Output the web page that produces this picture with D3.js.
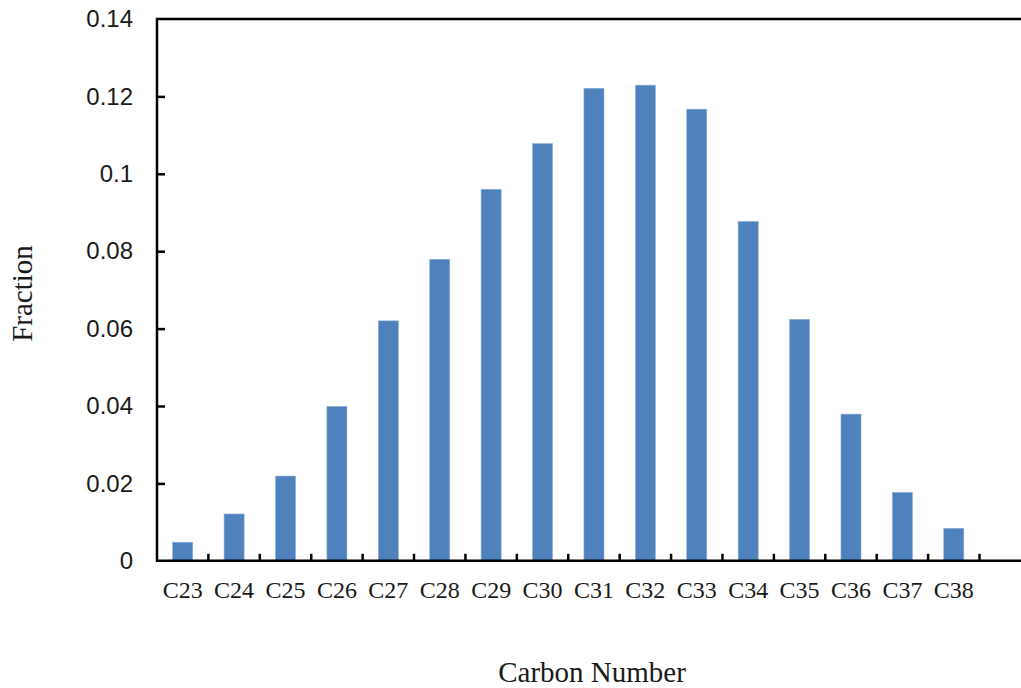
<!DOCTYPE html>
<html>
<head>
<meta charset="utf-8">
<script src="https://cdn.jsdelivr.net/npm/d3@7/dist/d3.min.js"></script>
<style>
  html, body { margin: 0; padding: 0; background: #fff; }
  svg { display: block; }
</style>
</head>
<body>
<script>
// Carbon number distribution
const categories = ["C23","C24","C25","C26","C27","C28","C29","C30","C31","C32","C33","C34","C35","C36","C37","C38"];
const fractions = [0.0048, 0.0121, 0.0219, 0.0399, 0.0620, 0.0779, 0.0960, 0.1078, 0.1221, 0.1229, 0.1167, 0.0877, 0.0624, 0.0379, 0.0177, 0.0084];
const yTicks = [0, 0.02, 0.04, 0.06, 0.08, 0.1, 0.12, 0.14];

const W = 1021, H = 688;
const plotLeft = 157, plotRight = 979.5, plotTop = 19, plotBottom = 560.8;

const svg = d3.select("body").append("svg")
  .attr("width", W).attr("height", H);

const x = d3.scaleBand()
  .domain(categories)
  .range([plotLeft, plotRight])
  .paddingInner(0.61)
  .paddingOuter(0.305);

const y = d3.scaleLinear().domain([0, 0.14]).range([plotBottom, plotTop]);

// bars
svg.append("g").selectAll("rect")
  .data(categories.map((c, i) => ({ c, v: fractions[i] })))
  .join("rect")
  .attr("x", d => x(d.c))
  .attr("y", d => y(d.v))
  .attr("width", x.bandwidth())
  .attr("height", d => y(0) - y(d.v))
  .attr("fill", "#4f81bd")
  .attr("stroke", "#8fb0da")
  .attr("stroke-width", 0.6);

// y axis: inward ticks, labels on the left
const yAxis = d3.axisRight(y)
  .tickValues(yTicks)
  .tickSize(8)
  .tickFormat(d => String(+d.toFixed(2)));
const gy = svg.append("g").attr("transform", `translate(${plotLeft},0)`).call(yAxis);
gy.select(".domain").remove();
gy.selectAll(".tick line")
  .attr("stroke", "#000").attr("stroke-width", 2.5)
  .attr("display", d => (d === 0 || d === 0.14) ? "none" : null);
gy.selectAll(".tick text")
  .attr("text-anchor", "end")
  .attr("x", -24)
  .attr("font-family", "'Liberation Sans', Arial, sans-serif")
  .attr("font-size", 24)
  .attr("fill", "#1a1a1a");

// x axis: inward ticks at category boundaries
const step = x.step();
const boundaries = categories.map(c => x(c) - x.paddingOuter() * step + step);
svg.append("g").selectAll("line")
  .data(boundaries)
  .join("line")
  .attr("x1", d => d).attr("x2", d => d)
  .attr("y1", plotBottom).attr("y2", plotBottom - 7)
  .attr("stroke", "#000").attr("stroke-width", 2.5);

const xAxis = d3.axisBottom(x).tickSize(0).tickPadding(20);
const gx = svg.append("g").attr("transform", `translate(0,${plotBottom})`).call(xAxis);
gx.select(".domain").remove();
gx.selectAll(".tick text")
  .attr("font-family", "'Liberation Serif', 'Times New Roman', serif")
  .attr("font-size", 24)
  .attr("fill", "#1a1a1a");

// frame lines: left, top, bottom
svg.append("line").attr("x1", plotLeft).attr("x2", plotLeft).attr("y1", plotTop - 1.25).attr("y2", plotBottom + 1.25)
  .attr("stroke", "#000").attr("stroke-width", 2.5);
svg.append("line").attr("x1", plotLeft).attr("x2", W).attr("y1", plotTop).attr("y2", plotTop)
  .attr("stroke", "#000").attr("stroke-width", 2.5);
svg.append("line").attr("x1", plotLeft).attr("x2", W).attr("y1", plotBottom).attr("y2", plotBottom)
  .attr("stroke", "#000").attr("stroke-width", 2.5);

// axis titles
svg.append("text")
  .attr("x", 592).attr("y", 682)
  .attr("text-anchor", "middle")
  .attr("font-family", "'Liberation Serif', 'Times New Roman', serif")
  .attr("font-size", 29)
  .attr("fill", "#1a1a1a")
  .text("Carbon Number");

svg.append("text")
  .attr("transform", `translate(32,${(245 + 342) / 2}) rotate(-90)`)
  .attr("text-anchor", "middle")
  .attr("font-family", "'Liberation Serif', 'Times New Roman', serif")
  .attr("font-size", 29)
  .attr("fill", "#1a1a1a")
  .text("Fraction");
</script>
</body>
</html>
